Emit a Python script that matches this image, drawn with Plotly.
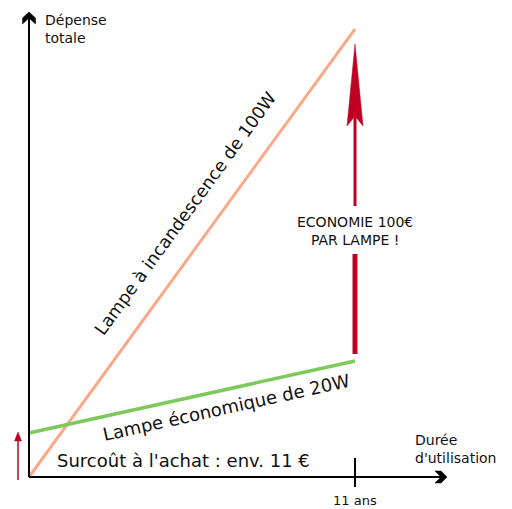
import plotly.graph_objects as go

# ---- data (schematic values: years vs. cumulative cost in €) ----
years = [0, 11]
incandescent_cost = [0, 112]      # Lampe à incandescence de 100W
economic_cost = [11, 29]          # Lampe économique de 20W
purchase_overcost = 11            # Surcoût à l'achat
savings_label = "ECONOMIE 100€<br>PAR LAMPE !"
tick_year = 11
tick_label = "11 ans"

ORANGE = "#F9A98A"
GREEN = "#7DC95C"
RED = "#C00022"
FONT = "DejaVu Sans"

W, H = 512, 509
# axis ranges so that x=0 -> 29px, 11 yrs -> 355px ; y=0 -> 477px, 4px per €
xs = (355 - 29) / 11.0
ys = 4.0
x_range = [-29 / xs, (W - 29) / xs]
y_range = [-(H - 477) / ys, 477 / ys]

def dx(px):  # pixel length to x units
    return px / xs

def dy(px):
    return px / ys

fig = go.Figure()

# lines
fig.add_trace(go.Scatter(x=years, y=incandescent_cost, mode="lines",
                         line=dict(color=ORANGE, width=3), hoverinfo="skip"))
fig.add_trace(go.Scatter(x=years, y=economic_cost, mode="lines",
                         line=dict(color=GREEN, width=3.5), hoverinfo="skip"))

shapes = []
# axes
x_end = x_range[0] + dx(443)
y_end = y_range[1] - dy(18)
shapes.append(dict(type="line", x0=0, y0=0, x1=x_end, y1=0, xref="x", yref="y",
                   line=dict(color="black", width=2)))
shapes.append(dict(type="line", x0=0, y0=0, x1=0, y1=y_end, xref="x", yref="y",
                   line=dict(color="black", width=2)))
# x-axis chevron
cx = x_range[0] + dx(447)
shapes.append(dict(type="path", xref="x", yref="y",
                   path=f"M {cx-dx(12)},{dy(6)} L {cx-dx(6)},{dy(6)} L {cx},0 "
                        f"L {cx-dx(6)},{-dy(6)} L {cx-dx(12)},{-dy(6)} L {cx-dx(6)},0 Z",
                   fillcolor="black", line=dict(color="black", width=0.5)))
# y-axis chevron
cy = y_range[1] - dy(12)
shapes.append(dict(type="path", xref="x", yref="y",
                   path=f"M {-dx(6.5)},{cy-dy(12)} L {-dx(6.5)},{cy-dy(6)} L 0,{cy} "
                        f"L {dx(6.5)},{cy-dy(6)} L {dx(6.5)},{cy-dy(12)} L 0,{cy-dy(6)} Z",
                   fillcolor="black", line=dict(color="black", width=0.5)))
# tick at 11 years
shapes.append(dict(type="line", x0=tick_year, x1=tick_year, y0=dy(19), y1=-dy(10),
                   xref="x", yref="y", line=dict(color="black", width=2)))

# big savings arrow
ax = tick_year
tip = incandescent_cost[1] - dy(15)
head_base = tip - dy(82)
notch = tip - dy(72)
shapes.append(dict(type="path", xref="x", yref="y",
                   path=f"M {ax},{tip} L {ax+dx(8)},{head_base} L {ax},{notch} "
                        f"L {ax-dx(8)},{head_base} Z",
                   fillcolor=RED, line=dict(color=RED, width=0.5)))
shapes.append(dict(type="line", x0=ax, x1=ax, y0=notch, y1=tip - dy(162),
                   xref="x", yref="y", line=dict(color=RED, width=3)))
shapes.append(dict(type="line", x0=ax, x1=ax, y0=tip - dy(210), y1=economic_cost[1] + dy(7),
                   xref="x", yref="y", line=dict(color=RED, width=5)))

# small overcost arrow
sx = -dx(11)
shapes.append(dict(type="line", x0=sx, x1=sx, y0=-dy(3), y1=purchase_overcost - dy(6),
                   xref="x", yref="y", line=dict(color=RED, width=1.5)))
shapes.append(dict(type="path", xref="x", yref="y",
                   path=f"M {sx},{purchase_overcost + dy(1)} L {sx+dx(3.5)},{purchase_overcost - dy(8)} "
                        f"L {sx-dx(3.5)},{purchase_overcost - dy(8)} Z",
                   fillcolor=RED, line=dict(color=RED, width=0.5)))

annotations = [
    dict(x=dx(14), y=y_range[1] - dy(10), xref="x", yref="y", text="Dépense<br>totale",
         showarrow=False, xanchor="left", yanchor="top", align="left",
         font=dict(family=FONT, size=14, color="#111")),
    dict(x=x_range[0] + dx(413), y=dy(47), xref="x", yref="y", text="Durée<br>d'utilisation",
         showarrow=False, xanchor="left", yanchor="top", align="left",
         font=dict(family=FONT, size=14, color="#111")),
    dict(x=tick_year, y=-dy(23), xref="x", yref="y", text=tick_label,
         showarrow=False, xanchor="center", yanchor="middle",
         font=dict(family=FONT, size=13, color="#111")),
    dict(x=dx(26), y=dy(17), xref="x", yref="y",
         text=f"Surcoût à l'achat : env. {purchase_overcost} €",
         showarrow=False, xanchor="left", yanchor="middle",
         font=dict(family=FONT, size=18, color="#111")),
    dict(x=tick_year, y=dy(477 - 231), xref="x", yref="y", text=savings_label,
         showarrow=False, xanchor="center", yanchor="middle", align="center",
         font=dict(family=FONT, size=14, color="#111")),
    dict(x=dx(185 - 29), y=dy(477 - 214), xref="x", yref="y",
         text="Lampe à incandescence de 100W", textangle=-54,
         showarrow=False, xanchor="center", yanchor="middle",
         font=dict(family=FONT, size=17.5, color="#111")),
    dict(x=dx(226 - 29), y=dy(477 - 407), xref="x", yref="y",
         text="Lampe économique de 20W", textangle=-12.5,
         showarrow=False, xanchor="center", yanchor="middle",
         font=dict(family=FONT, size=18, color="#111")),
]

fig.update_layout(
    width=W, height=H, autosize=False,
    margin=dict(l=0, r=0, t=0, b=0),
    paper_bgcolor="white", plot_bgcolor="white",
    showlegend=False,
    xaxis=dict(range=x_range, visible=False, fixedrange=True),
    yaxis=dict(range=y_range, visible=False, fixedrange=True),
    shapes=shapes, annotations=annotations,
)

fig.write_html("out.html", config={"displayModeBar": False},
               post_script="document.body.style.margin='0';")
